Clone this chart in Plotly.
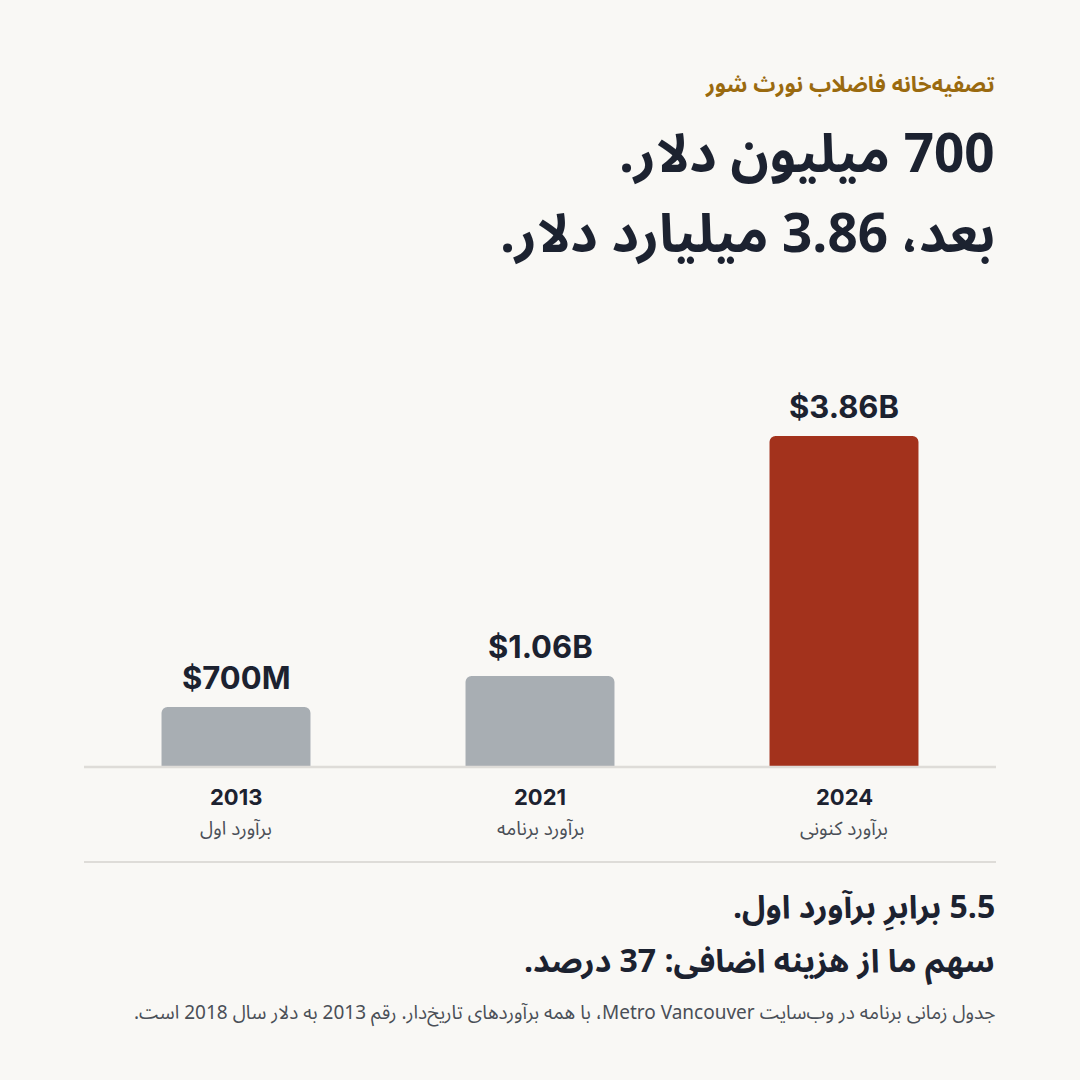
import plotly.graph_objects as go

# data
years = ["2013", "2021", "2024"]
estimate_labels = ["برآورد اول", "برآورد برنامه", "برآورد کنونی"]
costs_billion = [0.70, 1.06, 3.86]
cost_labels = ["$700M", "$1.06B", "$3.86B"]
bar_colors = ["#a8aeb3", "#a8aeb3", "#a3321c"]

kicker = "تصفیه‌خانه فاضلاب نورث شور"
title_lines = ["700 میلیون دلار.", "بعد، 3.86 میلیارد دلار."]
takeaways = ["5.5 برابرِ برآورد اول.", "سهم ما از هزینه اضافی: 37 درصد."]
footnote = "جدول زمانی برنامه در وب‌سایت Metro Vancouver، با همه برآوردهای تاریخ‌دار. رقم 2013 به دلار سال 2018 است."

BG = "#f9f8f5"
INK = "#1c2230"
GOLD = "#9a6a0f"
GREY_TXT = "#4a4f57"
RULE = "#dedcd8"
FONT = "Noto Sans Arabic, Vazirmatn, Inter, DejaVu Sans, sans-serif"


def rtl(s):
    # wrap in a right-to-left embedding so punctuation lands on the left
    return "\u202b" + s + "\u202c"


fig = go.Figure()
fig.add_trace(go.Bar(
    x=years,
    y=costs_billion,
    marker=dict(color=bar_colors, cornerradius=6, line=dict(width=0)),
    width=0.49,
    hoverinfo="skip",
))

W, H = 1080, 1080
L, R, T, B = 84, 84, 340, 313

fig.update_layout(
    width=W, height=H,
    paper_bgcolor=BG, plot_bgcolor=BG,
    margin=dict(l=L, r=R, t=T, b=B),
    showlegend=False,
    font=dict(family=FONT, color=INK),
    xaxis=dict(type="category", range=[-0.5, len(years) - 0.5], showticklabels=False,
               showgrid=False, zeroline=False, showline=False, fixedrange=True),
    yaxis=dict(range=[0, 4.98], visible=False, fixedrange=True),
)

def py(px):
    # pixel y (from top) -> paper y
    return 1 - (px - T) / (H - T - B)

def pxx(px):
    return (px - L) / (W - L - R)

RIGHT = pxx(997)

anns = []
# value labels above bars (x given as category index)
for i, (v, lab) in enumerate(zip(costs_billion, cost_labels)):
    anns.append(dict(x=i, y=v, xref="x", yref="y", text="<b>" + lab + "</b>",
                     showarrow=False, yanchor="bottom", yshift=9,
                     font=dict(size=31, color=INK, family="Inter, DejaVu Sans")))
# category labels under the baseline
for i, (yr, lab) in enumerate(zip(years, estimate_labels)):
    anns.append(dict(x=i, y=0, xref="x", yref="y", text="<b>" + yr + "</b>",
                     showarrow=False, yanchor="middle", yshift=-30,
                     font=dict(size=22, color=INK, family="Inter, DejaVu Sans")))
    anns.append(dict(x=i, y=0, xref="x", yref="y", text=rtl(lab),
                     showarrow=False, yanchor="middle", yshift=-62,
                     font=dict(size=19, color=GREY_TXT)))

# header
anns.append(dict(x=RIGHT, y=py(85), xref="paper", yref="paper", text="<b>" + rtl(kicker) + "</b>",
                 showarrow=False, xanchor="right", yanchor="middle",
                 font=dict(size=22, color=GOLD)))
for i, line in enumerate(title_lines):
    anns.append(dict(x=RIGHT, y=py(155 + 80 * i), xref="paper", yref="paper",
                     text="<b>" + rtl(line) + "</b>", showarrow=False,
                     xanchor="right", yanchor="middle",
                     font=dict(size=53, color=INK)))
# takeaways
for i, line in enumerate(takeaways):
    anns.append(dict(x=RIGHT, y=py(908 + 54 * i), xref="paper", yref="paper",
                     text="<b>" + rtl(line) + "</b>", showarrow=False,
                     xanchor="right", yanchor="middle",
                     font=dict(size=32, color=INK)))
anns.append(dict(x=RIGHT, y=py(1013), xref="paper", yref="paper",
                 text=rtl(footnote), showarrow=False, xanchor="right", yanchor="middle",
                 font=dict(size=19, color=GREY_TXT)))

fig.update_layout(annotations=anns)

# baseline and separator rules
fig.add_shape(type="line", xref="paper", yref="paper", x0=0, x1=1, y0=py(767), y1=py(767),
              line=dict(color=RULE, width=2.5))
fig.add_shape(type="line", xref="paper", yref="paper", x0=0, x1=1, y0=py(862), y1=py(862),
              line=dict(color=RULE, width=2))

fig.write_html("out.html", config={"displayModeBar": False},
               post_script="document.body.style.margin='0';")
